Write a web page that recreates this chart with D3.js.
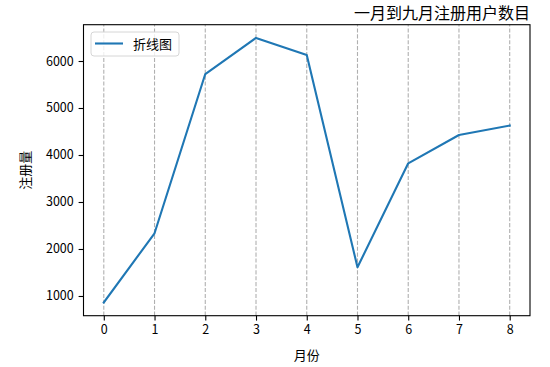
<!DOCTYPE html>
<html lang="zh">
<head>
<meta charset="utf-8">
<title>一月到九月注册用户数目</title>
<script src="https://d3js.org/d3.v7.min.js"></script>
<style>
  body { margin: 0; background: #fff; }
  svg text { font-family: "Noto Sans CJK SC", "DejaVu Sans", sans-serif; fill: #000; }
</style>
</head>
<body>
<script>
// data
var months = [0, 1, 2, 3, 4, 5, 6, 7, 8];
var users = [862, 2334, 5723, 6491, 6128, 1611, 3823, 4426, 4626];
var yTicks = [1000, 2000, 3000, 4000, 5000, 6000];
var chartTitle = "一月到九月注册用户数目";
var seriesName = "折线图";

var w = 550, h = 367;
var margin = {top: 24.7, right: 20, bottom: 51.3, left: 83.5};

var svg = d3.select("body").append("svg")
    .attr("width", w)
    .attr("height", h);

// matplotlib style 5% padding on both axes
var xmin = d3.min(months), xmax = d3.max(months);
var ymin = d3.min(users), ymax = d3.max(users);
var xpad = (xmax - xmin) * 0.05, ypad = (ymax - ymin) * 0.05;

var x = d3.scaleLinear()
    .domain([xmin - xpad, xmax + xpad])
    .range([margin.left, w - margin.right]);
var y = d3.scaleLinear()
    .domain([ymin - ypad, ymax + ypad])
    .range([h - margin.bottom, margin.top]);

// vertical dashed grid
svg.append("g")
    .selectAll("line")
    .data(months)
    .enter()
    .append("line")
    .attr("x1", function(d) { return x(d); })
    .attr("x2", function(d) { return x(d); })
    .attr("y1", y.range()[0])
    .attr("y2", y.range()[1])
    .attr("stroke", "#b0b0b0")
    .attr("stroke-width", 1.1)
    .attr("stroke-dasharray", "4.1,1.8");

// the line
var line = d3.line()
    .x(function(d, i) { return x(months[i]); })
    .y(function(d) { return y(d); });

svg.append("path")
    .datum(users)
    .attr("d", line)
    .attr("fill", "none")
    .attr("stroke", "#1f77b4")
    .attr("stroke-width", 2.1)
    .attr("stroke-linejoin", "round")
    .attr("stroke-linecap", "square");

// axes
var xAxis = svg.append("g")
    .attr("transform", "translate(0," + (h - margin.bottom) + ")")
    .call(d3.axisBottom(x).tickValues(months).tickFormat(d3.format("d")).tickSizeOuter(0).tickSize(4.9).tickPadding(4.9));
var yAxis = svg.append("g")
    .attr("transform", "translate(" + margin.left + ",0)")
    .call(d3.axisLeft(y).tickValues(yTicks).tickFormat(d3.format("d")).tickSizeOuter(0).tickSize(4.9).tickPadding(4.9));

[xAxis, yAxis].forEach(function(a) {
    a.select(".domain").remove();
    a.selectAll(".tick line").attr("stroke", "#000").attr("stroke-width", 1.1);
    a.selectAll(".tick text")
        .style("font-family", '"Noto Sans CJK SC", sans-serif')
        .style("font-size", "12.5px")
        .attr("fill", "#000");
});

// frame
svg.append("rect")
    .attr("x", margin.left)
    .attr("y", margin.top)
    .attr("width", w - margin.left - margin.right)
    .attr("height", h - margin.top - margin.bottom)
    .attr("fill", "none")
    .attr("stroke", "#000")
    .attr("stroke-width", 1.1);

// title
svg.append("text")
    .attr("x", w - margin.right)
    .attr("y", 19)
    .attr("text-anchor", "end")
    .style("font-size", "16px")
    .text(chartTitle);

// axis labels
svg.append("text")
    .attr("x", (margin.left + w - margin.right) / 2)
    .attr("y", 360)
    .attr("text-anchor", "middle")
    .style("font-size", "13px")
    .text("月份");

svg.append("text")
    .attr("transform", "translate(30," + ((margin.top + h - margin.bottom) / 2) + ") rotate(-90)")
    .attr("text-anchor", "middle")
    .style("font-size", "13px")
    .text("注册量");

// legend
var legend = svg.append("g");
legend.append("rect")
    .attr("x", 91)
    .attr("y", 32)
    .attr("width", 88)
    .attr("height", 24)
    .attr("rx", 3)
    .attr("fill", "#fff")
    .attr("fill-opacity", 0.8)
    .attr("stroke", "#d6d6d6")
    .attr("stroke-width", 1);
legend.append("line")
    .attr("x1", 95)
    .attr("x2", 123)
    .attr("y1", 43.5)
    .attr("y2", 43.5)
    .attr("stroke", "#1f77b4")
    .attr("stroke-width", 2.1);
legend.append("text")
    .attr("x", 133)
    .attr("y", 48.5)
    .style("font-size", "13px")
    .text(seriesName);
</script>
</body>
</html>
